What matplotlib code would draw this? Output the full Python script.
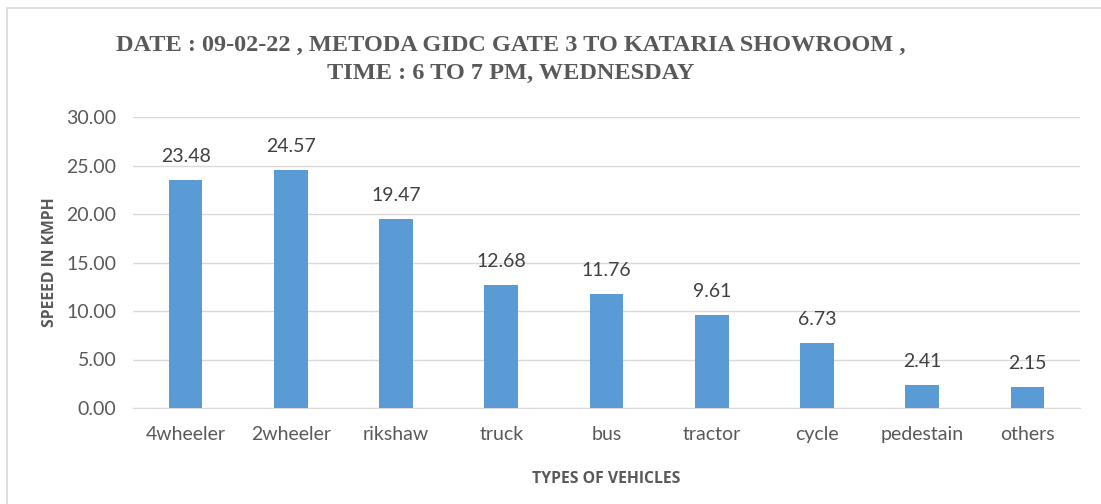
import matplotlib.pyplot as plt
from matplotlib.patches import Rectangle

# chart data
vehicles = ['4wheeler', '2wheeler', 'rikshaw', 'truck', 'bus', 'tractor',
            'cycle', 'pedestain', 'others']
speeds = [23.48, 24.57, 19.47, 12.68, 11.76, 9.61, 6.73, 2.41, 2.15]
yticks = [0, 5, 10, 15, 20, 25, 30]

fig = plt.figure(figsize=(11.01, 5.04), dpi=100)
ax = fig.add_axes([133 / 1101, 1 - 408 / 504, 947 / 1101, 291 / 504])

# outer chart border
fig.patches.append(Rectangle((7 / 1101, -0.1), 1.2, (504 - 8) / 504 + 0.1,
                             transform=fig.transFigure, fill=False,
                             edgecolor='#d9d9d9', linewidth=1.2))

x = range(len(vehicles))
bars = ax.bar(x, speeds, width=0.32, color='#5b9bd5', zorder=3)

for b, v in zip(bars, speeds):
    ax.text(b.get_x() + b.get_width() / 2, v + 1.85, f'{v:.2f}',
            ha='center', va='baseline', fontsize=14, color='#404040',
            family='Lato')

ax.set_xlim(-0.5, len(vehicles) - 0.5)
ax.set_ylim(0, 30)
ax.set_yticks(yticks)
ax.set_yticklabels([f'{t:.2f}' for t in yticks], family='Lato', fontsize=14,
                   color='#595959')
ax.set_xticks(list(x))
ax.set_xticklabels(vehicles, family='Lato', fontsize=14, color='#595959')
ax.tick_params(length=0)
ax.tick_params(axis='x', pad=13)
ax.tick_params(axis='y', pad=12)
ax.yaxis.grid(True, color='#d9d9d9', linewidth=1, zorder=0)
for s in ['top', 'right', 'left']:
    ax.spines[s].set_visible(False)
ax.spines['bottom'].set_color('#d9d9d9')

ax.set_ylabel('SPEEED IN KMPH', family='Open Sans', fontweight='bold',
              fontsize=11.3, color='#595959', labelpad=6)
ax.set_xlabel('TYPES OF VEHICLES', family='Open Sans', fontweight='bold',
              fontsize=11.3, color='#595959', labelpad=20)

fig.text(511 / 1101, 1 - 45 / 504,
         'DATE : 09-02-22 , METODA GIDC GATE 3 TO KATARIA SHOWROOM ,',
         ha='center', va='center', family='Liberation Serif',
         fontweight='bold', fontsize=17.5, color='#595959')
fig.text(511 / 1101, 1 - 73 / 504, 'TIME : 6 TO 7 PM, WEDNESDAY',
         ha='center', va='center', family='Liberation Serif',
         fontweight='bold', fontsize=17.5, color='#595959')

fig.savefig('out.png', dpi=100)
